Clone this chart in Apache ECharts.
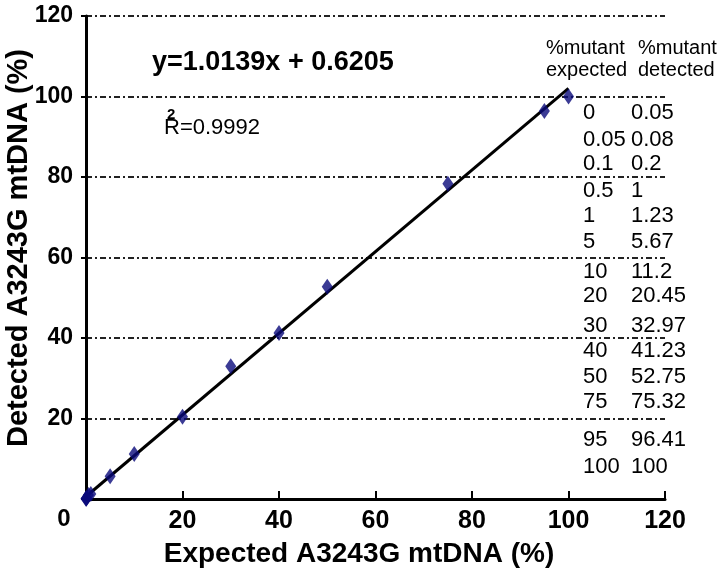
<!DOCTYPE html>
<html>
<head>
<meta charset="utf-8">
<script src="https://cdn.jsdelivr.net/npm/echarts@6/dist/echarts.min.js"></script>
<style>
  html, body { margin: 0; padding: 0; background: #fff; }
  #chart { width: 726px; height: 578px; }
</style>
</head>
<body>
<div id="chart"></div>
<script>
// data
var expected = [0, 0.05, 0.1, 0.5, 1, 5, 10, 20, 30, 40, 50, 75, 95, 100];
var detected = [0.05, 0.08, 0.2, 1, 1.23, 5.67, 11.2, 20.45, 32.97, 41.23, 52.75, 78.3, 96.41, 100];
// table text as printed
var tableExpected = ["0", "0.05", "0.1", "0.5", "1", "5", "10", "20", "30", "40", "50", "75", "95", "100"];
var tableDetected = ["0.05", "0.08", "0.2", "1", "1.23", "5.67", "11.2", "20.45", "32.97", "41.23", "52.75", "75.32", "96.41", "100"];
var tableRowY = [113, 140, 164, 191, 216, 242, 272, 296, 326, 351, 377, 402, 440, 467];
var slope = 1.0139, intercept = 0.6205;
var fitX = [0, 100];

var font = 'Arial, "Liberation Sans", sans-serif';
var chart = echarts.init(document.getElementById("chart"));

var points = [];
for (var i = 0; i < expected.length; i++) {
    points.push([expected[i], detected[i]]);
}
var fitLine = [];
for (var j = 0; j < fitX.length; j++) {
    fitLine.push([fitX[j], slope * fitX[j] + intercept]);
}

function txt(x, y, s, f, align) {
    return { type: "text", x: x, y: y, style: { text: s, font: f, fill: "#000", align: align || "left", verticalAlign: "middle" } };
}

var graphics = [];
// axis titles (placed by hand, the original is off-centre)
graphics.push(txt(359, 554, "Expected A3243G mtDNA (%)", "bold 28px " + font, "center"));
var yTitle = txt(19, 248, "Detected A3243G mtDNA (%)", "bold 29px " + font, "center");
yTitle.rotation = Math.PI / 2;
graphics.push(yTitle);
graphics.push(txt(64, 519, "0", "bold 24px " + font, "center"));
graphics.push(txt(152, 63, "y=1.0139x + 0.6205", "bold 27px " + font));
graphics.push(txt(164, 128, "R=0.9992", "22px " + font));
graphics.push(txt(167, 115, "2", "bold 15px " + font));
graphics.push({ type: "text", x: 546, y: 37, style: { text: "%mutant\nexpected", font: "20px " + font, lineHeight: 22, fill: "#000" } });
graphics.push({ type: "text", x: 638, y: 37, style: { text: "%mutant\ndetected", font: "20px " + font, lineHeight: 22, fill: "#000" } });
for (var k = 0; k < tableExpected.length; k++) {
    graphics.push(txt(583, tableRowY[k], tableExpected[k], "22px " + font));
    graphics.push(txt(631, tableRowY[k], tableDetected[k], "22px " + font));
}

var option = {
    backgroundColor: "#fff",
    animation: false,
    grid: { left: 86, top: 16, right: 61, bottom: 79, outerBoundsMode: "none" },
    xAxis: {
        type: "value", min: 0, max: 120, interval: 20,
        axisLine: { show: true, lineStyle: { color: "#000", width: 3 } },
        axisTick: { show: true, inside: true, length: 8, lineStyle: { color: "#000", width: 2 } },
        axisLabel: {
            color: "#000", fontFamily: font, fontWeight: "bold", fontSize: 25, margin: 10,
            formatter: function (v) { return v === 0 ? "" : v; }
        },
        splitLine: { show: false }
    },
    yAxis: {
        type: "value", min: 0, max: 120, interval: 20,
        axisLine: { show: true, lineStyle: { color: "#000", width: 3 } },
        axisTick: { show: true, length: 5, lineStyle: { color: "#000", width: 2 } },
        axisLabel: {
            color: "#000", fontFamily: font, fontWeight: "bold", fontSize: 23, margin: 13,
            formatter: function (v) { return v === 0 ? "" : v; }
        },
        splitLine: { show: true, lineStyle: { color: "#222", width: 2, type: [6, 3, 2, 3] } }
    },
    graphic: graphics,
    series: [
        {
            type: "line",
            data: fitLine,
            symbol: "none",
            lineStyle: { color: "#000", width: 3 },
            z: 2
        },
        {
            type: "scatter",
            data: points,
            symbol: "diamond",
            symbolSize: [11, 16],
            itemStyle: { color: "#0a0a7a" },
            z: 3
        }
    ]
};
if (option && option.series) {
    chart.setOption(option);
}
</script>
</body>
</html>
